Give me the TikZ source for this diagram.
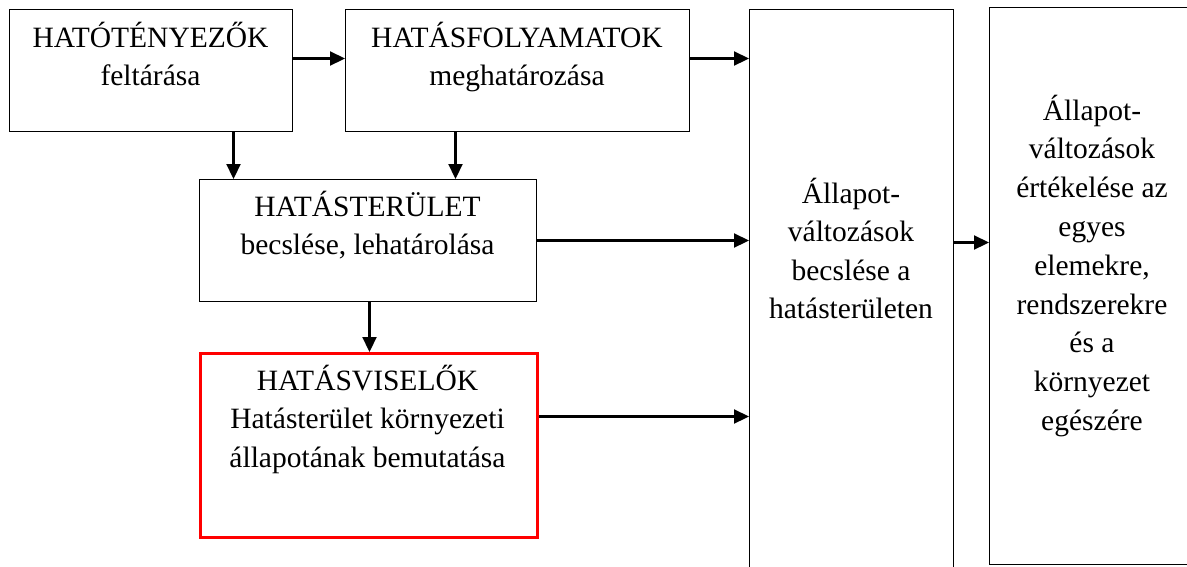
\documentclass[tikz,border=0pt]{standalone}
\usepackage{fontspec}
\setmainfont{Liberation Serif}
\usetikzlibrary{arrows.meta}
\definecolor{boxred}{RGB}{255,0,0}
\begin{document}
\begin{tikzpicture}[x=1pt,y=-1pt,
  box/.style={draw, line width=1pt, rectangle, anchor=north west, inner sep=0pt},
  redbox/.style={box, draw=boxred, line width=3pt},
  txt/.style={align=center, anchor=base, font=\fontsize{29.5}{38.5}\selectfont, inner sep=0pt},
  arr/.style={line width=2.2pt, -{Triangle[length=15pt,width=14pt]}}]
\useasboundingbox (0,0) rectangle (1187,566);
% boxes
\node[box, minimum width=283pt, minimum height=122pt] (b1) at (9,9) {};
\node[box, minimum width=344pt, minimum height=122pt] (b2) at (345,9) {};
\node[box, minimum width=337pt, minimum height=122pt] (b3) at (199,179) {};
\node[redbox, minimum width=337pt, minimum height=184pt] (b4) at (199,352) {};
\node[box, minimum width=204pt, minimum height=620pt] (b5) at (749,9) {};
\node[box, minimum width=206pt, minimum height=557pt] (b6) at (989,7) {};
% texts (anchor base = baseline of the last line)
\node[txt] (t1) at (150.5,85.5) {HATÓTÉNYEZŐK\\feltárása};
\node[txt] (t2) at (517,85.5) {HATÁSFOLYAMATOK\\meghatározása};
\node[txt] (t3) at (367.5,254.5) {HATÁSTERÜLET\\becslése, lehatárolása};
\node[txt] (t4) at (367.5,467) {HATÁSVISELŐK\\Hatásterület környezeti\\állapotának bemutatása};
\node[txt] (t5) at (851,318.5) {Állapot-\\változások\\becslése a\\hatásterületen};
\node[txt, font=\fontsize{29.5}{38.8}\selectfont] (t6) at (1092,430.5) {Állapot-\\változások\\értékelése az\\egyes\\elemekre,\\rendszerekre\\és a\\környezet\\egészére};
% connectors
\draw[arr] ([yshift=12pt]b1.east) -- ([yshift=12pt]b1.east -| b2.west);
\draw[arr] ([yshift=12pt]b2.east) -- ([yshift=12pt]b2.east -| b5.west);
\draw[arr] ([xshift=82.5pt]b1.south) -- ([xshift=82.5pt]b1.south |- b3.north);
\draw[arr] ([xshift=-62pt]b2.south) -- ([xshift=-62pt]b2.south |- b3.north);
\draw[arr] (b3.east) -- (b3.east -| b5.west);
\draw[arr] ([xshift=1.5pt]b3.south) -- ([xshift=1.5pt]b3.south |- b4.north);
\draw[arr] ([yshift=29pt]b4.east) -- ([yshift=29pt]b4.east -| b5.west);
\draw[arr] ([yshift=-2pt]b3.east -| b5.east) -- ([yshift=-2pt]b3.east -| b6.west);
\end{tikzpicture}
\end{document}
